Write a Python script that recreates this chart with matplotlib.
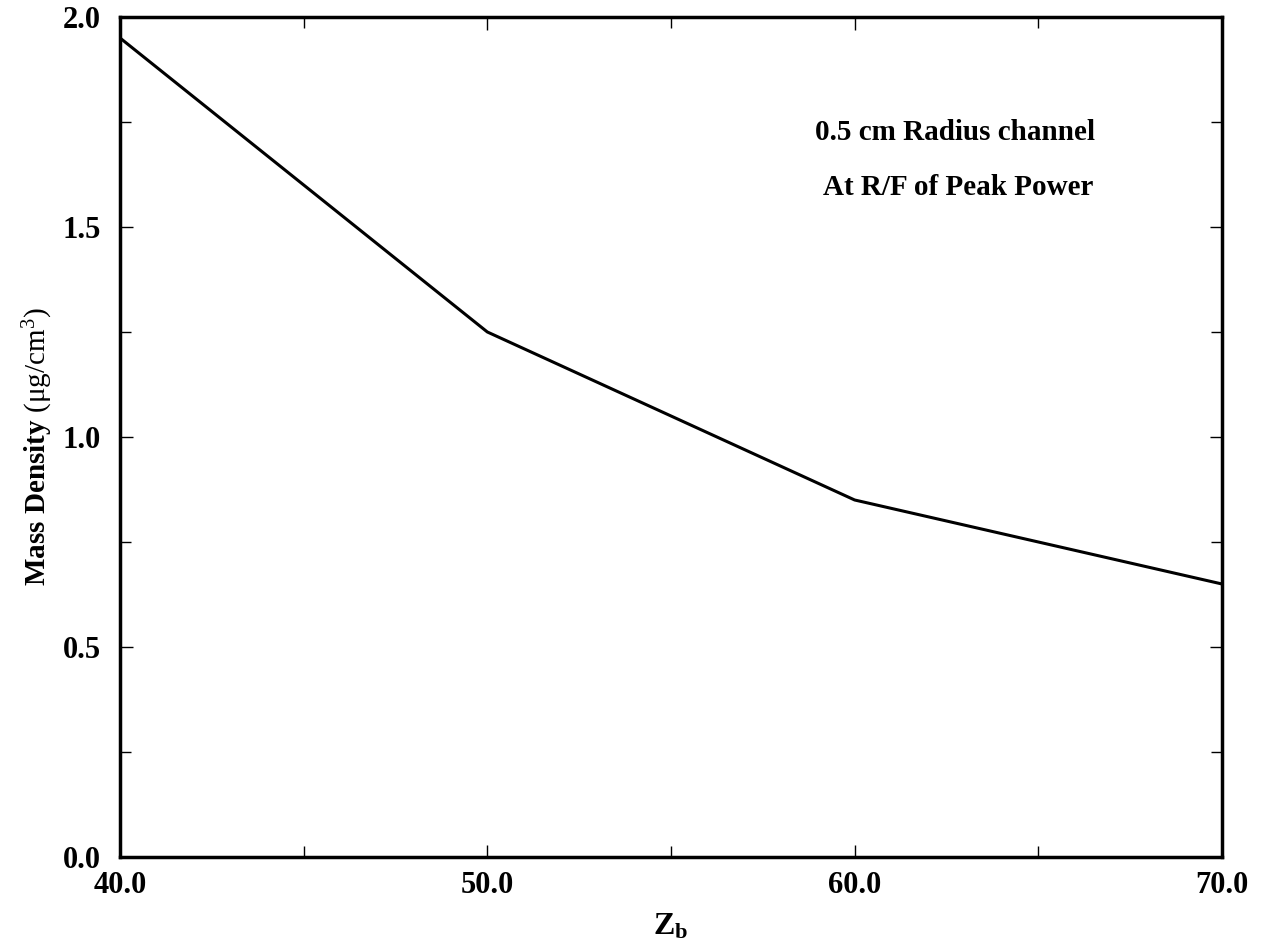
import matplotlib
matplotlib.use("Agg")
import matplotlib.pyplot as plt
from matplotlib.ticker import MultipleLocator

plt.rcParams['font.family'] = ['Liberation Serif', 'DejaVu Serif']
plt.rcParams['font.weight'] = 'bold'
plt.rcParams['mathtext.fontset'] = 'custom'
plt.rcParams['mathtext.rm'] = 'Liberation Serif:weight=normal'
plt.rcParams['mathtext.bf'] = 'Liberation Serif:bold'
plt.rcParams['mathtext.it'] = 'Liberation Serif:italic'

# beam impedance vs channel mass density
z_b = [40.0, 50.0, 60.0, 70.0]
density = [1.95, 1.25, 0.85, 0.65]

fig = plt.figure(figsize=(12.62, 9.43), dpi=100)
ax = fig.add_axes([0.0951, 0.0912, 0.8732, 0.8908])

ax.plot(z_b, density, color='black', lw=2.2)

ax.set_xlim(40, 70)
ax.set_ylim(0, 2.0)
ax.xaxis.set_major_locator(MultipleLocator(10))
ax.xaxis.set_minor_locator(MultipleLocator(5))
ax.yaxis.set_major_locator(MultipleLocator(0.5))
ax.yaxis.set_minor_locator(MultipleLocator(0.25))
ax.xaxis.set_major_formatter(plt.FormatStrFormatter('%.1f'))
ax.yaxis.set_major_formatter(plt.FormatStrFormatter('%.1f'))
ax.tick_params(which='both', direction='in', top=True, right=True, width=1)
ax.tick_params(which='major', length=9, labelsize=22)
ax.tick_params(which='minor', length=8)
ax.tick_params(axis='x', which='major', pad=10)
ax.tick_params(axis='y', which='major', pad=14)
for lab in ax.get_xticklabels() + ax.get_yticklabels():
    lab.set_fontweight('bold')
for s in ax.spines.values():
    s.set_linewidth(2.5)

ax.set_xlabel(r'$\mathbf{Z}_{\mathbf{b}}$', fontsize=23, labelpad=9)
ax.set_ylabel(r'$\mathbf{Mass\ Density}\ \mathrm{(μg/cm}^{3}\mathrm{)}$', fontsize=21)
ax.yaxis.set_label_coords(-0.059, 0.489)

ax.text(58.92, 1.724, '0.5 cm Radius channel', fontsize=21, fontweight='bold', va='center')
ax.text(59.15, 1.593, 'At R/F of Peak Power', fontsize=21, fontweight='bold', va='center')

fig.savefig('out.png', dpi=100)
